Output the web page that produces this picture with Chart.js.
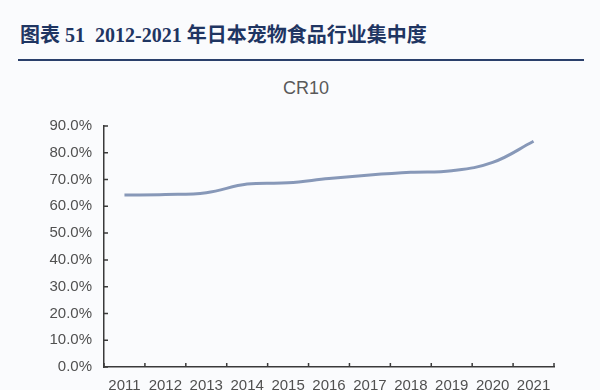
<!DOCTYPE html>
<html>
<head>
<meta charset="utf-8">
<script src="https://cdn.jsdelivr.net/npm/chart.js@4"></script>
<style>
  html, body { margin: 0; padding: 0; background: #fafbfd; overflow: hidden; }
  #wrap { position: relative; width: 600px; height: 390px; overflow: hidden; }
  #head {
    position: absolute; left: 20px; top: 19px;
    font-family: "Liberation Serif", "Noto Sans CJK SC", serif;
    font-weight: bold; font-size: 20px; color: #1f3562;
  }
  #rule { position: absolute; left: 18px; top: 59px; width: 566px; height: 2px; background: #2a3f6b; }
  #sub {
    position: absolute; left: 256px; width: 100px; top: 78px; text-align: center;
    font-family: "Liberation Sans", sans-serif; font-size: 18px; color: #595959;
  }
  #box { position: absolute; left: 0; top: 0; width: 600px; height: 406px; }
</style>
</head>
<body>
<div id="wrap">
  <div id="head">图表 51&nbsp; 2012-2021 年日本宠物食品行业集中度</div>
  <div id="rule"></div>
  <div id="sub">CR10</div>
  <div id="box"><canvas id="myChart" width="600" height="406"></canvas></div>
</div>
<script>
const years = ['2011', '2012', '2013', '2014', '2015', '2016', '2017', '2018', '2019', '2020', '2021'];
const cr10 = [0.642, 0.644, 0.651, 0.683, 0.688, 0.704, 0.717, 0.727, 0.733, 0.764, 0.843];
const seriesName = 'CR10';

// tick marks drawn on the inside of the axes
const innerTicks = {
  id: 'innerTicks',
  afterDraw(chart) {
    let ctx = chart.ctx;
    let ys = chart.scales.y;
    let area = chart.chartArea;
    ctx.save();
    ctx.strokeStyle = '#3a3a3a';
    ctx.lineWidth = 1.5;
    ctx.beginPath();
    ys.ticks.forEach((t, i) => {
      let y = ys.getPixelForTick(i);
      ctx.moveTo(area.left, y);
      ctx.lineTo(area.left + 4, y);
    });
    for (let i = 0; i <= years.length; i++) {
      let x = area.left + (area.right - area.left) * i / years.length;
      ctx.moveTo(x, area.bottom);
      ctx.lineTo(x, area.bottom - 4);
    }
    ctx.stroke();
    ctx.restore();
  }
};

let ctx = document.getElementById('myChart').getContext('2d');
new Chart(ctx, {
  type: 'line',
  data: {
    labels: years,
    datasets: [{
      label: seriesName,
      data: cr10,
      fill: false,
      tension: 0.4,
      borderColor: '#8798b8',
      borderWidth: 3,
      pointRadius: 0
    }]
  },
  plugins: [innerTicks],
  options: {
    responsive: false,
    animation: false,
    layout: { padding: { top: 126, right: 46, bottom: 9, left: 0 } },
    plugins: {
      legend: { display: false },
      tooltip: { enabled: false },
      title: { display: false }
    },
    scales: {
      x: {
        offset: true,
        border: { color: '#3a3a3a', width: 1.5 },
        grid: { display: false },
        ticks: {
          color: '#505050',
          padding: 2,
          maxRotation: 0,
          autoSkip: false,
          font: { family: 'Liberation Sans', size: 15 }
        }
      },
      y: {
        min: 0,
        max: 0.9,
        afterFit(scale) { scale.width = 104; },
        border: { color: '#3a3a3a', width: 1.5 },
        grid: { display: false },
        ticks: {
          stepSize: 0.1,
          color: '#505050',
          padding: 4,
          font: { family: 'Liberation Sans', size: 15 },
          callback: (v) => (v * 100).toFixed(1) + '%'
        }
      }
    }
  }
});
</script>
</body>
</html>
